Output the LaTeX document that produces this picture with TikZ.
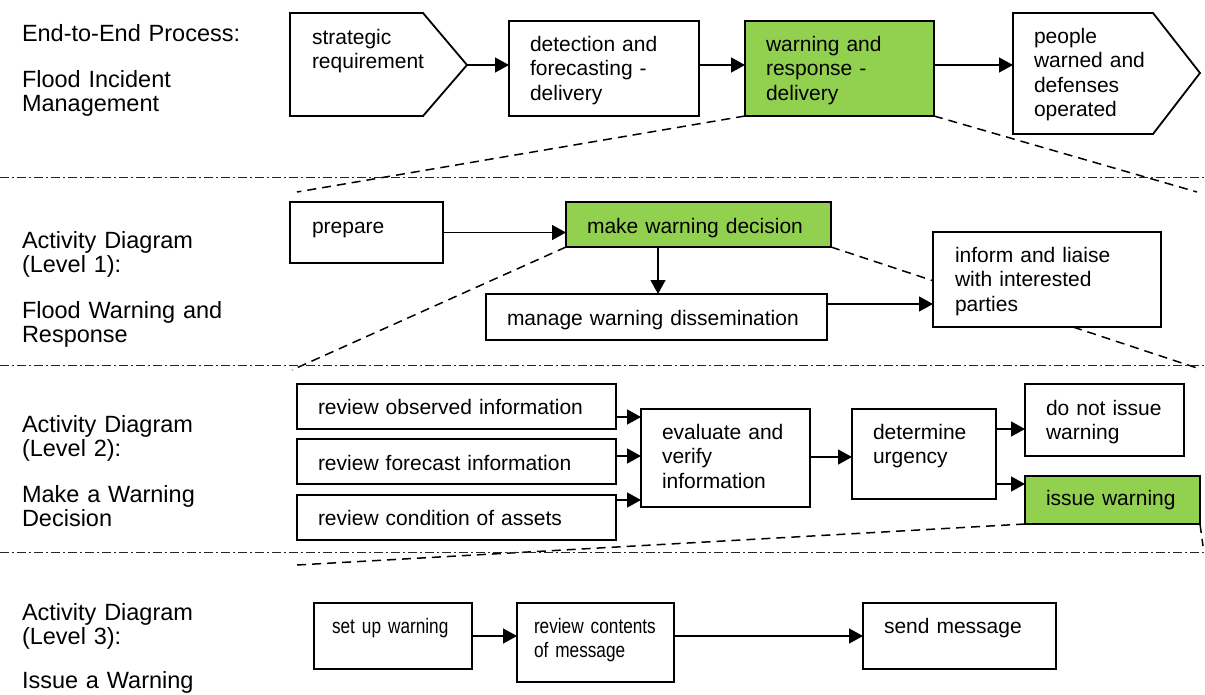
\documentclass[tikz,border=0pt]{standalone}
\usepackage{fontspec}
\setmainfont{Liberation Sans}
\newfontfamily\narrowfont[FakeStretch=0.82]{Liberation Sans}
\usetikzlibrary{arrows.meta}
\definecolor{grn}{HTML}{92D050}
\pgfdeclarelayer{bg}
\pgfsetlayers{bg,main}
\begin{document}
\begin{tikzpicture}[x=1pt,y=-1pt,
  box/.style={draw=black, line width=1.8pt, fill=white, inner sep=0pt, outer sep=0pt, anchor=north west},
  gbox/.style={box, fill=grn},
  txt/.style={inner sep=0pt, outer sep=0pt, anchor=base west, align=left, text width=400pt, font=\fontsize{21}{24.5}\selectfont},
  ntxt/.style={txt, font=\fontsize{21}{24.5}\selectfont\narrowfont},
  lbl/.style={txt, font=\fontsize{23.5}{24.5}\selectfont},
  arr/.style={line width=1.4pt, -{Triangle[length=14pt,width=15pt]}},
  sepline/.style={line width=0.9pt, dash pattern=on 9pt off 3pt on 2pt off 3pt, black!85},
  zoomline/.style={line width=1.5pt, dash pattern=on 9pt off 6pt}]
\useasboundingbox (0,0) rectangle (1205,694);

% left labels
\node[lbl] (l0a) at (22,41) {End-to-End Process:};
\node[lbl] (l0b) at (22,87) {Flood Incident\\Management};
\node[lbl] (l1a) at (22,248) {Activity Diagram\\(Level 1):};
\node[lbl] (l1b) at (22,318) {Flood Warning and\\Response};
\node[lbl] (l2a) at (22,432) {Activity Diagram\\(Level 2):};
\node[lbl] (l2b) at (22,502) {Make a Warning\\Decision};
\node[lbl] (l3a) at (22,620) {Activity Diagram\\(Level 3):};
\node[lbl] (l3b) at (22,688) {Issue a Warning};

% separators
\coordinate (s1a) at (0,177); \coordinate (s1b) at (1205,177);
\coordinate (s2a) at (0,365); \coordinate (s2b) at (1205,365);
\coordinate (s3a) at (0,552); \coordinate (s3b) at (1205,552);
\draw[sepline] (s1a) -- (s1b);
\draw[sepline] (s2a) -- (s2b);
\draw[sepline] (s3a) -- (s3b);

% top row
\draw[line width=1.8pt, fill=white] (290,13) -- (423,13) -- (467,65) coordinate (srtip) -- (423,116) -- (290,116) -- cycle;
\node[txt] (srt) at (312,44) {strategic\\requirement};
\node[box, minimum width=190pt, minimum height=95pt] (det) at (509,21) {};
\node[txt] (dett) at (530,51) {detection and\\forecasting -\\delivery};
\node[gbox, minimum width=189pt, minimum height=95pt] (wr) at (745,21) {};
\node[txt] (wrt) at (766,51) {warning and\\response -\\delivery};
\draw[line width=1.8pt, fill=white] (1013,13) coordinate (ppnw) -- (1153,13) -- (1200,73) -- (1153,134) -- (1013,134) -- cycle;
\node[txt] (ppt) at (1034,43) {people\\warned and\\defenses\\operated};

\draw[arr] (srtip) -- (srtip -| det.west);
\draw[arr] (srtip -| det.east) -- (srtip -| wr.west);
\draw[arr] (srtip -| wr.east) -- (srtip -| ppnw);

% level 1
\node[box, minimum width=153pt, minimum height=61pt] (prep) at (290,202) {};
\node[txt] (prept) at (312,233) {prepare};
\node[gbox, minimum width=265pt, minimum height=45pt] (mwd) at (566,202) {};
\node[txt] (mwdt) at (587,233) {make warning decision};
\node[box, minimum width=341pt, minimum height=46pt] (mwdis) at (486,294) {};
\node[txt] (mwdist) at (507,325) {manage warning dissemination};
\node[box, minimum width=228pt, minimum height=95pt] (inf) at (933,232) {};
\node[txt] (inft) at (955,262) {inform and liaise\\with interested\\parties};

\draw[arr] (prep.east) -- (prep.east -| mwd.west);
\draw[arr] ([xshift=1.5pt]mwdis.north |- mwd.south) -- ([xshift=1.5pt]mwdis.north);
\draw[arr] ([yshift=13pt]mwdis.east) coordinate (a1) -- (a1 -| inf.west);

% level 2
\node[box, minimum width=319pt, minimum height=45pt] (obs) at (297,384) {};
\node[txt] (obst) at (318,414) {review observed information};
\node[box, minimum width=319pt, minimum height=45pt] (fc) at (297,439) {};
\node[txt] (fct) at (318,470) {review forecast information};
\node[box, minimum width=319pt, minimum height=45pt] (cond) at (297,495) {};
\node[txt] (condt) at (318,525) {review condition of assets};
\node[box, minimum width=169pt, minimum height=98pt] (eva) at (641,409) {};
\node[txt] (evat) at (662,439) {evaluate and\\verify\\information};
\node[box, minimum width=144pt, minimum height=90pt] (dtu) at (852,409) {};
\node[txt] (dtut) at (873,439) {determine\\urgency};
\node[box, minimum width=159pt, minimum height=72pt] (dni) at (1025,384) {};
\node[txt] (dnit) at (1046,415) {do not issue\\warning};
\node[gbox, minimum width=175pt, minimum height=48pt] (iw) at (1025,476) {};
\node[txt] (iwt) at (1046,505) {issue warning};

\draw[arr] ([yshift=-10.5pt]obs.east) coordinate (a2) -- (a2 -| eva.west);
\draw[arr] ([yshift=5.5pt]fc.east) coordinate (a3) -- (a3 -| eva.west);
\draw[arr] ([yshift=17.5pt]cond.east) coordinate (a4) -- (a4 -| eva.west);
\draw[arr] ([yshift=1pt]eva.east) coordinate (a5) -- (a5 -| dtu.west);
\draw[arr] ([yshift=25pt]dtu.east) coordinate (a6) -- (a6 -| dni.west);
\draw[arr] ([yshift=-30pt]dtu.east) coordinate (a7) -- (a7 -| iw.west);

% level 3
\node[box, minimum width=158pt, minimum height=66pt] (sw) at (314,603) {};
\node[ntxt] (swt) at (332,633) {set up warning};
\node[box, minimum width=157pt, minimum height=79pt] (rc) at (517,603) {};
\node[ntxt] (rct) at (534,633) {review contents\\of message};
\node[box, minimum width=193pt, minimum height=66pt] (sm) at (863,603) {};
\node[txt] (smt) at (884,633) {send message};

\draw[arr] (sw.east) -- (sw.east -| rc.west);
\draw[arr] (sw.east -| rc.east) -- (sm.west);

% zoom (expansion) lines
\coordinate (z1a) at (297,192);
\coordinate (z1b) at (1197,192);
\coordinate (z2a) at (292,370);
\coordinate (z2b) at (1197,368);
\coordinate (z3a) at (297,565);
\coordinate (z3b) at (1203,546);
\begin{pgfonlayer}{bg}
\draw[zoomline] (wr.south west) -- (z1a);
\draw[zoomline] (wr.south east) -- (z1b);
\draw[zoomline] (mwd.south west) -- (z2a);
\draw[zoomline] (mwd.south east) -- (z2b);
\draw[zoomline] (iw.south west) -- (z3a);
\draw[zoomline] (iw.south east) -- (z3b);
\end{pgfonlayer}
\end{tikzpicture}
\end{document}
